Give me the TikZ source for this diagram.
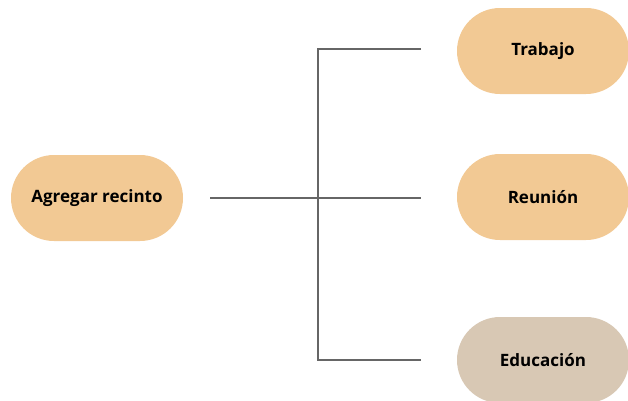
\documentclass[tikz,border=0pt]{standalone}
\usepackage{fontspec}
\setmainfont{Open Sans}
\usetikzlibrary{shapes.misc}
\definecolor{pillorange}{HTML}{F2C994}
\definecolor{pilltan}{HTML}{D8C8B4}
\definecolor{linkgray}{HTML}{666666}
\newcommand\pilllabel[1]{\raisebox{-3pt}{#1}}
\tikzset{
  pill/.style={rounded rectangle, minimum width=172pt, minimum height=86pt,
    inner sep=0pt, font=\bfseries\fontsize{17}{20}\selectfont, text=black},
  link/.style={draw=linkgray, line width=2.2pt}
}
\begin{document}
\begin{tikzpicture}[x=1pt,y=-1pt]
\useasboundingbox (0,0) rectangle (628,400);
\node[pill, fill=pillorange] (root) at (97,198) {\pilllabel{Agregar recinto}};
\node[pill, fill=pillorange] (t) at (543,51) {\pilllabel{Trabajo}};
\node[pill, fill=pillorange] (r) at (543,197) {\pilllabel{Reunión}};
\node[pill, fill=pilltan] (e) at (543,360) {\pilllabel{Educación}};
\coordinate (j) at (318,198);
\coordinate (rs) at (210,198);
\coordinate (tend) at (421,49);
\coordinate (rend) at (421,198);
\coordinate (eend) at (421,360);
\draw[link] (rs) -- (j);
\draw[link] (tend) -- (j |- tend) -- (j |- eend) -- (eend);
\draw[link] (j) -- (rend);
\end{tikzpicture}
\end{document}
